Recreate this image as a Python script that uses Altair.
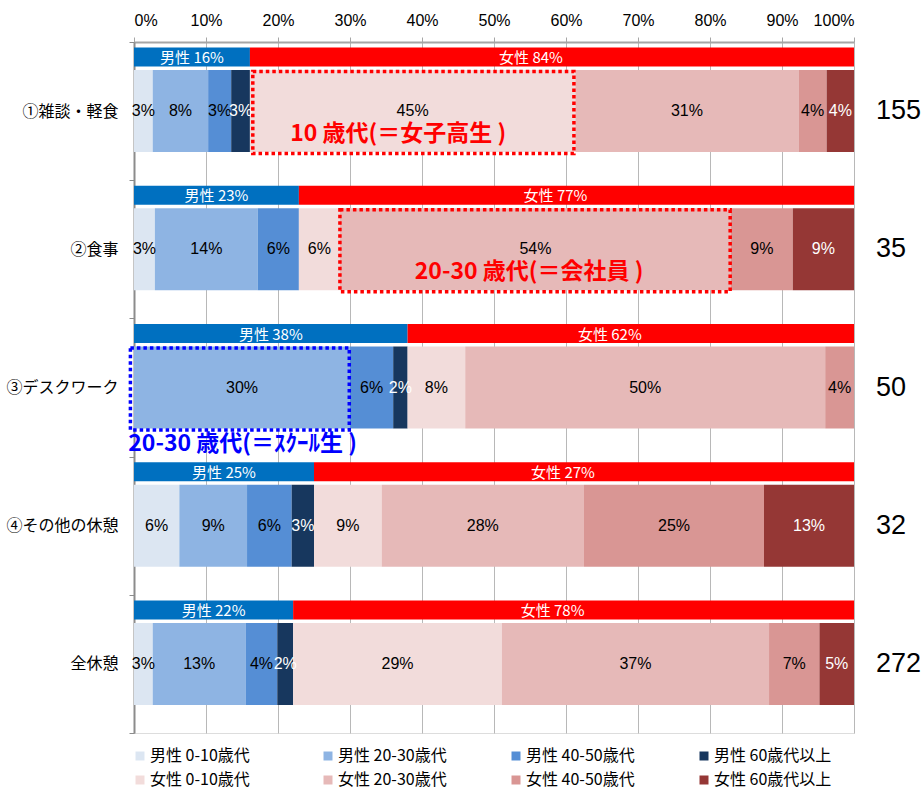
import altair as alt
import pandas as pd

categories = ["①雑談・軽食", "②食事", "③デスクワーク", "④その他の休憩", "全休憩"]
sample_sizes = [155, 35, 50, 32, 272]
groups = ["男性 0-10歳代", "男性 20-30歳代", "男性 40-50歳代", "男性 60歳代以上",
          "女性 0-10歳代", "女性 20-30歳代", "女性 40-50歳代", "女性 60歳代以上"]
group_colors = ["#dce6f2", "#8eb4e3", "#558ed5", "#17375e",
                "#f2dcdb", "#e6b9b8", "#d99694", "#953735"]

# shares (%) per category
m_0_10 = [2.6, 2.9, 0.0, 6.3, 2.6]
m_20_30 = [7.7, 14.3, 30.0, 9.4, 12.9]
m_40_50 = [3.2, 5.7, 6.0, 6.2, 4.4]
m_60 = [2.6, 0.0, 2.0, 3.1, 2.2]
f_0_10 = [45.2, 5.7, 8.0, 9.4, 29.0]
f_20_30 = [31.0, 54.3, 50.0, 28.1, 37.1]
f_40_50 = [3.9, 8.6, 4.0, 25.0, 7.0]
f_60 = [3.8, 8.5, 0.0, 12.5, 4.8]

male_label_pct = [16, 23, 38, 25, 22]
female_label_pct = [84, 77, 62, 27, 78]

# annotations
ann_cat = ["①雑談・軽食", "②食事", "③デスクワーク"]
ann_start = [16.5, 28.6, -0.5]
ann_end = [61.1, 82.8, 29.9]
ann_text_x = [21.7, 39.0, -0.8]
ann_text = ["10 歳代(＝女子高生 )", "20-30 歳代(＝会社員 )", "20-30 歳代(＝ｽｸｰﾙ生 )"]
ann_color = ["red", "red", "blue"]

series = [m_0_10, m_20_30, m_40_50, m_60, f_0_10, f_20_30, f_40_50, f_60]

rows = []
gender_rows = []
for i, cat in enumerate(categories):
    cum = 0.0
    for g, s in zip(groups, series):
        v = s[i]
        rows.append({"cat": cat, "group": g, "value": v, "x0": cum, "x1": cum + v,
                     "mid": cum + v / 2})
        cum += v
    male_total = m_0_10[i] + m_20_30[i] + m_40_50[i] + m_60[i]
    gender_rows.append({"cat": cat, "sex": "male", "x0": 0.0, "x1": male_total,
                        "mid": male_total / 2, "label": f"男性 {male_label_pct[i]}%"})
    gender_rows.append({"cat": cat, "sex": "female", "x0": male_total, "x1": 100.0,
                        "mid": (male_total + 100.0) / 2, "label": f"女性 {female_label_pct[i]}%"})

df = pd.DataFrame(rows)
df_lab = df[df["value"] > 0].copy()
gdf = pd.DataFrame(gender_rows)
ndf = pd.DataFrame({"cat": categories, "n": sample_sizes})
adf = pd.DataFrame({"cat": ann_cat, "x0": ann_start, "x1": ann_end, "tx": ann_text_x,
                    "text": ann_text, "col": ann_color})

yscale = alt.Scale(domain=categories, paddingInner=0, paddingOuter=0)
yaxis = alt.Axis(title=None, tickBand="extent", ticks=True, tickSize=5,
                 tickColor="#8c8c8c", domainColor="#8c8c8c", domainWidth=2,
                 labelFont="Noto Sans CJK JP", labelFontSize=16, labelColor="#000",
                 labelPadding=11, grid=False)
xscale = alt.Scale(domain=[0, 100], nice=False, zero=False)
xaxis = alt.Axis(orient="top", title=None, values=list(range(0, 101, 10)),
                 labelExpr="datum.value + '%'", grid=True, gridColor="#b8b8b8",
                 gridWidth=1, tickSize=5, tickColor="#a6a6a6", domainColor="#a6a6a6",
                 domainWidth=2, labelFont="Liberation Sans", labelFontSize=16,
                 labelColor="#000", labelPadding=9)


def X(field):
    return alt.X(field, scale=xscale, axis=xaxis)


Y = alt.Y("cat:N", sort=categories, scale=yscale, axis=yaxis)

age_bars = alt.Chart(df).mark_bar(height=82).encode(
    x=X("x0:Q"),
    x2="x1:Q",
    y=Y,
    color=alt.Color("group:N", scale=alt.Scale(domain=groups, range=group_colors),
                    legend=alt.Legend(title=None, orient="none", legendX=-2, legendY=706,
                                      direction="horizontal",
                                      columns=4, symbolType="square", symbolSize=81,
                                      symbolStrokeWidth=0, labelFont="Noto Sans CJK JP",
                                      labelFontSize=16, labelColor="#000", labelOffset=2,
                                      columnPadding=52, rowPadding=8, gridAlign="all",
                                      labelLimit=200)),
)

male_bars = alt.Chart(gdf[gdf["sex"] == "male"]).mark_bar(height=19, yOffset=-54, color="#0070c0").encode(
    x=X("x0:Q"), x2="x1:Q", y=Y)
female_bars = alt.Chart(gdf[gdf["sex"] == "female"]).mark_bar(height=19, yOffset=-54, color="#ff0000").encode(
    x=X("x0:Q"), x2="x1:Q", y=Y)

male_text = alt.Chart(gdf[gdf["sex"] == "male"]).mark_text(
    color="white", font="Noto Sans CJK JP", fontSize=15, baseline="middle", dy=-53).encode(
    x=X("mid:Q"), y=Y, text="label:N")
female_text = alt.Chart(gdf[gdf["sex"] == "female"]).mark_text(
    color="white", font="Noto Sans CJK JP", fontSize=15, baseline="middle", dy=-53, dx=-21).encode(
    x=X("mid:Q"), y=Y, text="label:N")

age_text = alt.Chart(df_lab).mark_text(
    font="Liberation Sans", fontSize=16, baseline="middle").transform_calculate(
    lbl="format(datum.value, '.0f') + '%'").encode(
    x=X("mid:Q"), y=Y,
    text="lbl:N",
    color=alt.condition("indexof(datum.group, '60') >= 0", alt.value("white"), alt.value("black")),
)

boxes = alt.Chart(adf).mark_bar(height=82, yOffset=1.5, fillOpacity=0, strokeWidth=3.5,
                                strokeDash=[3.5, 3], strokeCap="butt").encode(
    x=X("x0:Q"), x2="x1:Q", y=Y,
    stroke=alt.Stroke("col:N", scale=None))

red_ann = alt.Chart(adf[adf["col"] == "red"]).mark_text(
    font="Noto Sans CJK JP", fontWeight="bold", fontSize=23, color="#ff0000",
    align="left", baseline="middle", dy=23).encode(
    x=X("tx:Q"), y=Y, text="text:N")
blue_ann = alt.Chart(adf[adf["col"] == "blue"]).mark_text(
    font="Noto Sans CJK JP", fontWeight="bold", fontSize=23, color="#0000ff",
    align="left", baseline="middle", dy=56).encode(
    x=X("tx:Q"), y=Y, text="text:N")

n_text = alt.Chart(ndf).mark_text(
    font="Liberation Sans", fontSize=27,
    color="#000", align="left", baseline="middle", dx=22).encode(
    x=alt.datum(100, scale=xscale, axis=xaxis), y=Y, text="n:N")

chart = alt.layer(
    age_bars, male_bars, female_bars, male_text, female_text, age_text,
    boxes, red_ann, blue_ann, n_text
).properties(
    width=720, height=691,
    padding={"left": 134, "top": 42, "right": 68, "bottom": 58},
    autosize=alt.AutoSizeParams(type="none"),
).configure_view(stroke=None).configure(background="white")

chart.save("out.html", embed_options={"renderer": "svg", "actions": False})
